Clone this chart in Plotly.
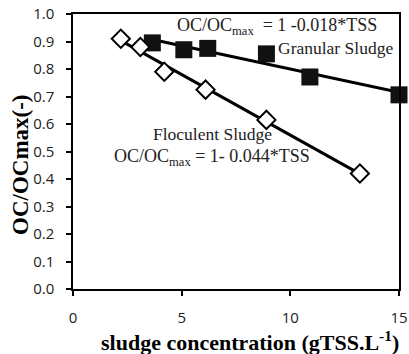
import numpy as np
import plotly.graph_objects as go

# Data
granular_tss = [3.65, 5.1, 6.2, 8.9, 10.9, 15.0]
granular_oc = [0.895, 0.87, 0.875, 0.855, 0.771, 0.706]
floc_tss = [2.2, 3.1, 4.2, 6.1, 8.9, 13.2]
floc_oc = [0.91, 0.88, 0.79, 0.725, 0.615, 0.42]

x_ticks = [0, 5, 10, 15]
y_ticks = [0.0, 0.1, 0.2, 0.3, 0.4, 0.5, 0.6, 0.7, 0.8, 0.9, 1.0]


def trend(xs, ys):
    k, b = np.polyfit(xs, ys, 1)
    xe = [min(xs), max(xs)]
    return xe, [k * v + b for v in xe]


fig = go.Figure()
gx, gy = trend(granular_tss, granular_oc)
fx, fy = trend(floc_tss, floc_oc)
fig.add_trace(go.Scatter(x=gx, y=gy, mode="lines", line=dict(color="black", width=3),
                         showlegend=False, hoverinfo="skip", cliponaxis=False))
fig.add_trace(go.Scatter(x=fx, y=fy, mode="lines", line=dict(color="black", width=3),
                         showlegend=False, hoverinfo="skip", cliponaxis=False))
fig.add_trace(go.Scatter(x=granular_tss, y=granular_oc, mode="markers", name="Granular Sludge",
                         marker=dict(symbol="square", size=17, color="#111111",
                                     line=dict(color="#111111", width=0)),
                         showlegend=False, cliponaxis=False))
fig.add_trace(go.Scatter(x=floc_tss, y=floc_oc, mode="markers", name="Floculent Sludge",
                         marker=dict(symbol="diamond", size=14, color="white",
                                     line=dict(color="black", width=2)),
                         showlegend=False, cliponaxis=False))

# plot area in page px: left 73, right 399, top 14, bottom 289
W, H = 409, 354
PL, PR, PT, PB = 73, 399, 14, 289
L, R, T, B = PL, W - PR, PT, H - PB
pw, ph = PR - PL, PB - PT


def px2paper(px, py):
    return (px - PL) / pw, 1 - (py - PT) / ph


serif = "Liberation Serif"
texts = [
    ("OC/OC<sub>max</sub>  = 1 -0.018*TSS", 277, 26, 18),
    ("Granular Sludge", 335, 48, 17.5),
    ("Floculent Sludge", 212, 134, 17.5),
    ("OC/OC<sub>max</sub> = 1- 0.044*TSS", 212, 157, 18),
]
for t, px, py, fs in texts:
    ax_, ay_ = px2paper(px, py)
    fig.add_annotation(text=t, x=ax_, y=ay_, xref="paper", yref="paper", showarrow=False,
                       font=dict(family=serif, size=fs, color="#222222"),
                       xanchor="center", yanchor="middle")

# axis titles
tx, ty = px2paper(250, 341)
fig.add_annotation(text="<b>sludge concentration (gTSS.L<sup>-1</sup>)</b>", x=tx, y=ty,
                   xref="paper", yref="paper", showarrow=False,
                   font=dict(family=serif, size=22, color="black"),
                   xanchor="center", yanchor="middle")
tx, ty = px2paper(20, 165)
fig.add_annotation(text="<b>OC/OCmax(-)</b>", x=tx, y=ty, textangle=-90,
                   xref="paper", yref="paper", showarrow=False,
                   font=dict(family=serif, size=23, color="black"),
                   xanchor="center", yanchor="middle")

axis_common = dict(showline=True, linecolor="black", linewidth=1.5, mirror=True,
                   ticks="outside", ticklen=5, tickwidth=1.5, tickcolor="black",
                   showgrid=False, zeroline=False, ticklabeloverflow="allow",
                   tickfont=dict(family="Open Sans", size=15, color="#222222"))
fig.update_xaxes(range=[0, 15], tickvals=x_ticks, ticktext=[str(v) for v in x_ticks],
                 ticklabelstandoff=9, **axis_common)
fig.update_yaxes(range=[0, 1.0], tickvals=y_ticks, ticktext=[f"{v:.1f}" for v in y_ticks],
                 ticklabelstandoff=9, **axis_common)
fig.update_layout(width=W, height=H, margin=dict(l=L, r=R, t=T, b=B, autoexpand=False),
                  plot_bgcolor="white", paper_bgcolor="white")
fig.write_html("out.html", config={"displayModeBar": False},
               post_script="document.body.style.margin='0';document.body.style.overflow='hidden';")
